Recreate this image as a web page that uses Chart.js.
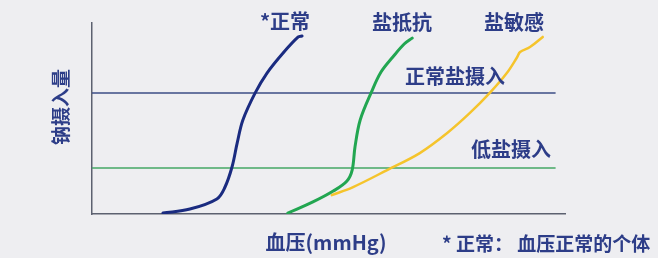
<!DOCTYPE html>
<html>
<head>
<meta charset="utf-8">
<script src="https://cdn.jsdelivr.net/npm/chart.js@4"></script>
<style>
  body { margin: 0; background: #eeeef1; }
  #wrap { width: 658px; height: 258px; position: relative; }
</style>
</head>
<body>
<div id="wrap"><canvas id="myChart"></canvas></div>
<script>
// blood pressure (x) vs sodium intake (y), both on a 0-100 relative scale
const normalX = [15, 20.7, 26.4, 28.1, 29.6, 30.7, 31.9, 34.5, 37, 40.4, 43.6, 44.4];
const normalY = [0.5, 2.6, 7.9, 14, 24.6, 37.2, 49.2, 63.4, 73.8, 84.3, 92.7, 93.2];

const resistantX = [41.4, 46.7, 51, 53.9, 55, 55.6, 56.7, 59, 61.1, 63.6, 66, 67.7];
const resistantY = [0.5, 6.3, 12, 17.3, 23, 35.1, 49.2, 63.4, 74.3, 82.2, 89, 92.1];

const sensitiveX = [50.7, 55.2, 62.4, 69.3, 75.1, 79.9, 84.1, 87.7, 89.9, 90.5, 92.6, 95.3];
const sensitiveY = [9.9, 14.1, 23, 31.9, 42.4, 52.9, 63.4, 73.8, 82.2, 84.8, 87.4, 92.7];

const seriesNames = ['*正常', '盐抵抗', '盐敏感'];
const intakeNames = ['正常盐摄入', '低盐摄入'];
const intakeLevels = [63.4, 24.1];
const intakeEnd = 97.9;

const xTitle = '血压(mmHg)';
const yTitle = '钠摄入量';
const footnote = '* 正常： 血压正常的个体';

const textColor = '#2d3d88';
const font = '"Noto Sans CJK SC", sans-serif';

function toPoints(xs, ys) {
    return xs.map((x, i) => ({ x: x, y: ys[i] }));
}

const labelPlugin = {
    id: 'labels',
    afterDraw(chart) {
        const ctx = chart.ctx;
        const area = chart.chartArea;
        ctx.save();
        ctx.fillStyle = textColor;
        ctx.textBaseline = 'middle';

        ctx.font = 'bold 20px ' + font;
        ctx.textAlign = 'center';
        ctx.fillText(seriesNames[0], area.left + 193, area.top - 2);
        ctx.fillText(seriesNames[1], area.left + 310, area.top - 1);
        ctx.fillText(seriesNames[2], area.left + 422, area.top - 1);

        ctx.textAlign = 'left';
        ctx.font = 'bold 20px ' + font;
        ctx.fillText(intakeNames[0], area.left + 313, chart.scales.y.getPixelForValue(intakeLevels[0]) - 16);
        ctx.fillText(intakeNames[1], area.left + 379, chart.scales.y.getPixelForValue(intakeLevels[1]) - 19);

        ctx.font = 'bold 20px ' + font;
        ctx.textAlign = 'center';
        ctx.fillText(xTitle, area.left + 234, area.bottom + 28);

        ctx.font = 'bold 19px ' + font;
        ctx.textAlign = 'left';
        ctx.fillText(footnote, area.left + 350, area.bottom + 30);

        ctx.translate(area.left - 31, area.top + 84);
        ctx.rotate(-Math.PI / 2);
        ctx.textAlign = 'center';
        ctx.font = 'bold 19px ' + font;
        ctx.fillText(yTitle, 0, 0);
        ctx.restore();
    }
};

const config = {
    type: 'line',
    data: {
        datasets: [
            {
                label: seriesNames[0],
                data: toPoints(normalX, normalY),
                borderColor: '#1a2b80',
                borderWidth: 3,
                tension: 0.35
            },
            {
                label: seriesNames[1],
                data: toPoints(resistantX, resistantY),
                borderColor: '#22a651',
                borderWidth: 3,
                tension: 0.35
            },
            {
                label: seriesNames[2],
                data: toPoints(sensitiveX, sensitiveY),
                borderColor: '#f5c42c',
                borderWidth: 2.5,
                tension: 0.35
            },
            {
                label: intakeNames[0],
                data: [{ x: 0, y: intakeLevels[0] }, { x: intakeEnd, y: intakeLevels[0] }],
                borderColor: '#3d4e85',
                borderWidth: 1.5
            },
            {
                label: intakeNames[1],
                data: [{ x: 0, y: intakeLevels[1] }, { x: intakeEnd, y: intakeLevels[1] }],
                borderColor: '#45a866',
                borderWidth: 1.5
            }
        ]
    },
    options: {
        responsive: true,
        maintainAspectRatio: false,
        animation: false,
        layout: {
            padding: { left: 92, right: 93, top: 23, bottom: 44 }
        },
        elements: {
            point: { radius: 0 },
            line: { borderCapStyle: 'round', borderJoinStyle: 'round' }
        },
        plugins: {
            legend: { display: false },
            tooltip: { enabled: false }
        },
        scales: {
            x: {
                type: 'linear',
                min: 0,
                max: 100,
                ticks: { display: false },
                grid: { display: false, drawTicks: false },
                border: { display: true, color: '#5c6170', width: 1.5 }
            },
            y: {
                min: 0,
                max: 100,
                ticks: { display: false },
                grid: { display: false, drawTicks: false },
                border: { display: true, color: '#5c6170', width: 1.5 }
            }
        }
    },
    plugins: [labelPlugin]
};

new Chart(document.getElementById('myChart'), config);
</script>
</body>
</html>
